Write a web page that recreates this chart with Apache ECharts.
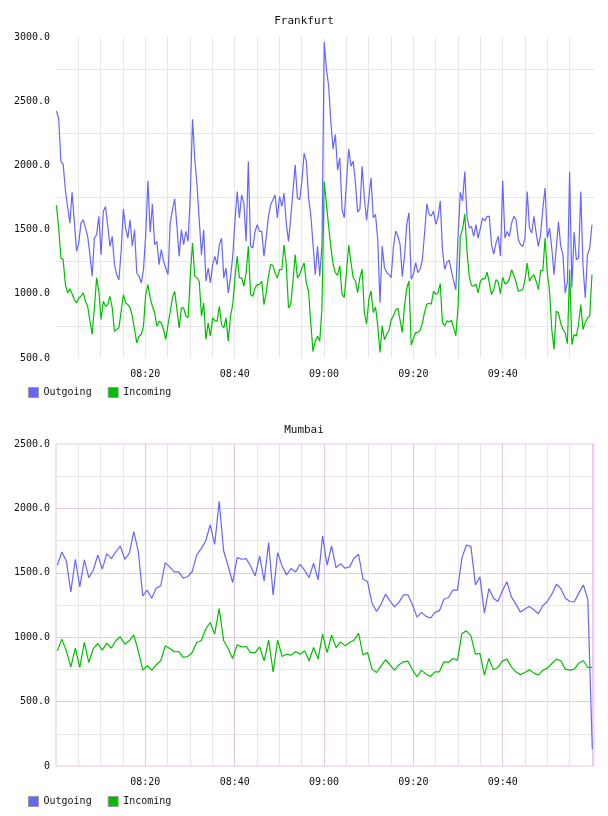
<!DOCTYPE html>
<html><head><meta charset="utf-8">
<script src="https://cdn.jsdelivr.net/npm/echarts@6/dist/echarts.min.js"></script>
<style>html,body{margin:0;padding:0;background:#fff}#c{width:608px;height:816px}</style>
</head><body><div id="c"></div>
<script>
// time axis: minutes after 08:00
const FRA_START = 0.1, FRA_STEP = 0.4995;
const MUM_START = 0.3, MUM_STEP = 1.0064;
const SERIES_NAMES = ['Outgoing', 'Incoming'];
const PANEL_TITLES = ['Frankfurt', 'Mumbai'];

const FRA_OUT = [
2424,2367,2030,2010,1810,1680,1550,1790,1570,1331,
1395,1551,1577,1512,1447,1305,1137,1434,1460,1603,
1305,1641,1680,1525,1370,1447,1227,1149,1110,1331,
1660,1512,1434,1577,1370,1499,1162,1137,1085,1188,
1460,1880,1480,1700,1382,1408,1227,1344,1253,1201,
1150,1551,1654,1740,1525,1290,1500,1382,1486,1408,
1771,2360,2050,1849,1577,1305,1499,1098,1201,1085,
1227,1292,1227,1382,1434,1124,1201,1007,1124,1292,
1564,1797,1590,1771,1706,1408,2030,1370,1357,1486,
1538,1486,1486,1292,1434,1603,1693,1732,1770,1590,
1758,1680,1784,1551,1408,1590,1797,2004,1745,1732,
1875,2095,2030,1745,1616,1382,1149,1370,1137,1382,
2960,2750,2620,2330,2128,2240,1963,2058,1657,1592,
1877,2128,1994,2033,1864,1636,1657,1994,1748,1571,
1748,1903,1592,1618,1424,930,1372,1204,1165,1152,
1126,1359,1489,1450,1385,1134,1294,1541,1631,1113,
1152,1243,1165,1191,1269,1476,1700,1620,1605,1644,
1541,1592,1722,1346,1191,1243,1263,1178,1100,1030,
1450,1790,1724,1952,1603,1512,1525,1447,1538,1434,
1512,1590,1569,1603,1603,1382,1310,1395,1447,1292,
1880,1434,1486,1447,1551,1603,1577,1421,1382,1370,
1434,1797,1512,1473,1603,1473,1370,1460,1667,1823,
1434,1512,1357,1149,1357,1560,1370,1305,1007,1092,
1950,1050,1480,1266,1279,1797,1214,968,1305,1357,
1538];
const FRA_IN = [
1690,1512,1279,1266,1072,1007,1040,1000,955,929,
968,981,1007,942,903,787,683,890,1124,1020,
800,942,903,916,981,890,709,722,735,864,
994,929,916,890,826,722,618,670,683,748,
994,1072,968,903,852,748,787,774,722,644,
761,864,968,1020,877,735,890,890,826,813,
1149,1395,1136,1124,1098,826,929,644,774,670,
813,792,787,903,761,735,813,631,826,916,
1124,1292,1124,1124,1059,1162,1370,994,981,1046,
1072,1072,1098,916,1007,1136,1227,1222,1162,1124,
1188,1188,1380,1230,890,916,1098,1305,1124,1149,
1201,1240,1085,1020,766,550,631,670,631,890,
1875,1700,1527,1359,1230,1165,1144,1217,996,971,
1178,1380,1243,1126,1100,1009,1126,1191,854,763,
958,1022,854,898,750,543,750,642,686,712,
797,828,872,888,797,699,906,1041,1100,600,
652,699,699,717,771,859,919,926,919,1022,
996,1009,1080,776,750,789,781,794,738,673,
900,1450,1500,1621,1331,1136,1066,1059,1077,1007,
1098,1118,1116,1168,1085,994,1033,1111,1092,999,
1129,1077,1085,1116,1188,1144,1090,1020,1028,1033,
1111,1240,1098,1131,1149,1098,1033,1183,1180,1434,
1162,1020,722,567,864,852,771,722,696,611,
1190,605,683,670,761,916,722,774,813,826,
1149];
const MUM_OUT = [
1559,1662,1592,1352,1605,1391,1600,1463,1520,1639,
1528,1649,1610,1662,1708,1605,1651,1819,1669,1321,
1365,1303,1381,1399,1579,1546,1507,1507,1458,1471,
1510,1639,1688,1747,1873,1721,2056,1669,1553,1424,
1618,1605,1610,1553,1476,1631,1437,1734,1326,1657,
1553,1484,1533,1507,1566,1520,1463,1574,1445,1786,
1559,1708,1541,1571,1535,1546,1613,1644,1450,1432,
1264,1200,1255,1334,1282,1236,1270,1329,1329,1252,
1156,1193,1162,1149,1193,1206,1295,1308,1365,1365,
1618,1716,1703,1406,1468,1187,1378,1303,1277,1360,
1430,1313,1257,1195,1219,1239,1213,1182,1245,1277,
1334,1411,1378,1303,1277,1275,1342,1406,1295,130];
const MUM_IN = [
894,985,894,770,915,765,959,804,912,951,
900,954,915,972,1003,946,972,1018,894,744,
778,744,786,817,933,912,887,889,843,850,
881,959,972,1062,1114,1024,1223,972,912,835,
941,925,928,881,881,925,817,977,731,977,
850,868,861,889,868,894,817,920,830,1024,
881,1016,920,964,933,959,977,1031,861,881,
752,726,778,825,786,744,786,809,814,747,
693,744,713,695,731,731,809,804,835,822,
1029,1049,1011,868,874,708,835,747,765,814,
830,770,731,708,726,747,721,706,744,760,
796,830,817,752,744,752,799,817,765,765];

const BLUE = '#6666ff', GREEN = '#00bf00';
const FONT = 'DejaVu Sans Mono';
const GRAY = '#e6e6e6', PURPLE = '#e2c8e2', NONE = 'rgba(0,0,0,0)';

const pairs = (arr, start, step) => arr.map((v, i) => [start + i * step, v]);
const pad = n => String(n).padStart(2, '0');
const fmtTime = m => pad(8 + Math.floor(m / 60)) + ':' + pad(Math.round(m % 60));
const xLabel = v => (v % 20 === 0 && v > 0 && v < 120) ? fmtTime(v) : '';

const chart = echarts.init(document.getElementById('c'), null, {renderer: 'canvas'});
const labelStyle = {fontFamily: FONT, fontSize: 10, color: '#111'};

function xAxis(gi, colors) {
  return {
    type: 'value', gridIndex: gi, min: 0, max: 120.44, interval: 5,
    axisLine: {show: false}, axisTick: {show: false},
    axisLabel: Object.assign({margin: 11, formatter: xLabel, showMaxLabel: false}, labelStyle),
    splitLine: {show: true, showMinLine: false, showMaxLine: false, lineStyle: {color: colors, width: 1}}
  };
}
function yAxis(gi, min, max, colors, fmt) {
  return {
    type: 'value', gridIndex: gi, min: min, max: max, interval: 250,
    axisLine: {show: false}, axisTick: {show: false},
    axisLabel: Object.assign({margin: 6, formatter: fmt}, labelStyle),
    splitLine: {show: true, showMinLine: false, showMaxLine: false, lineStyle: {color: colors, width: 1}}
  };
}
const legendBase = {
  data: SERIES_NAMES, left: 23, icon: 'rect', itemWidth: 10, itemHeight: 10, itemGap: 16,
  textStyle: {fontFamily: FONT, fontSize: 10, color: '#111'},
  itemStyle: {borderColor: '#999', borderWidth: 1}
};
const titleStyle = {fontFamily: FONT, fontSize: 11, fontWeight: 'normal', color: '#111'};
function line(name, data, gi, color) {
  return {name: name, type: 'line', xAxisIndex: gi, yAxisIndex: gi, data: data,
    showSymbol: false, symbol: 'none', lineStyle: {width: 1.2, color: color}, itemStyle: {color: color}};
}
// Frankfurt vertical lines at 5..115 min gray, none at 120
const fraXColors = [];
for (let i = 0; i < 23; i++) fraXColors.push(GRAY);
fraXColors.push(NONE);

chart.setOption({
  animation: false,
  backgroundColor: '#fff',
  title: [
    {text: PANEL_TITLES[0], left: 'center', top: 11, textStyle: titleStyle},
    {text: PANEL_TITLES[1], left: 'center', top: 420, textStyle: titleStyle}
  ],
  legend: [Object.assign({top: 382}, legendBase), Object.assign({top: 791}, legendBase)],
  grid: [
    {left: 56, right: 14, top: 37, height: 321},
    {left: 56, right: 14, top: 444, height: 322, show: true, borderColor: PURPLE, borderWidth: 1}
  ],
  xAxis: [xAxis(0, fraXColors), xAxis(1, [GRAY, GRAY, GRAY, PURPLE])],
  yAxis: [
    yAxis(0, 500, 3000, [GRAY, NONE], v => v % 500 === 0 ? v.toFixed(1) : ''),
    yAxis(1, 0, 2500, [GRAY, PURPLE], v => v === 0 ? '0' : (v % 500 === 0 ? v.toFixed(1) : ''))
  ],
  series: [
    line(SERIES_NAMES[0], pairs(FRA_OUT, FRA_START, FRA_STEP), 0, BLUE),
    line(SERIES_NAMES[1], pairs(FRA_IN, FRA_START, FRA_STEP), 0, GREEN),
    line(SERIES_NAMES[0], pairs(MUM_OUT, MUM_START, MUM_STEP), 1, BLUE),
    line(SERIES_NAMES[1], pairs(MUM_IN, MUM_START, MUM_STEP), 1, GREEN)
  ]
});
</script></body></html>
